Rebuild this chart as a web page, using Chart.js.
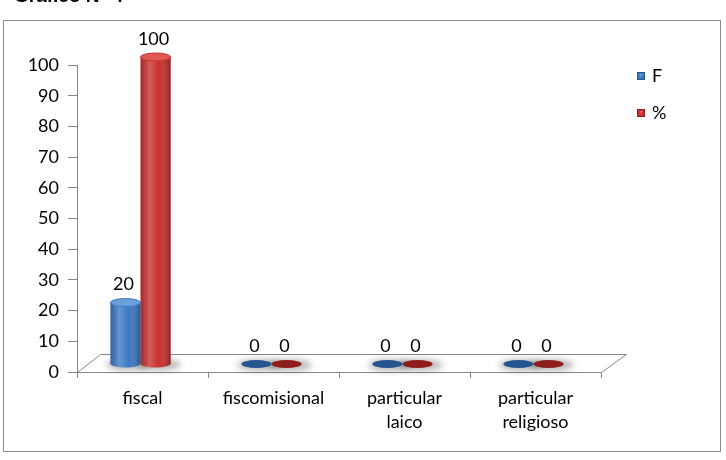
<!DOCTYPE html>
<html>
<head>
<meta charset="utf-8">
<script src="https://cdn.jsdelivr.net/npm/chart.js@4.4.0/dist/chart.umd.min.js"></script>
<style>
  html, body { margin: 0; padding: 0; background: #fff; }
  canvas { display: block; }
</style>
</head>
<body>
<canvas id="grafico" width="726" height="460"></canvas>
<script>
// Gráfico N° 4 - tipo de establecimiento
var categories = ['fiscal', 'fiscomisional', ['particular', 'laico'], ['particular', 'religioso']];
var seriesF = [20, 0, 0, 0];
var seriesPct = [100, 0, 0, 0];
var yTicks = [0, 10, 20, 30, 40, 50, 60, 70, 80, 90, 100];
var seriesNames = ['F', '%'];

var colors = ['#3B79C3', '#C8312F'];
var darkColors = ['#25548F', '#8E1D1C'];
var lightColors = ['#6A9FDB', '#DE5A56'];
var axisColor = '#868686';
var fontFam = 'Lato, "Liberation Sans", sans-serif';
var fontSize = 18;

// fake 3d depth offset
var DX = -2, DY = -8;

function ellipse(ctx, x, y, rx, ry) {
    ctx.beginPath();
    ctx.ellipse(x, y, rx, ry, 0, 0, Math.PI * 2);
    ctx.fill();
}

var framePlugin = {
    id: 'frame',
    beforeDraw: function (chart) {
        var ctx = chart.ctx;
        ctx.save();
        ctx.fillStyle = '#fff';
        ctx.fillRect(0, 0, chart.width, chart.height);
        ctx.fillStyle = '#000';
        ctx.font = 'bold 19px "Liberation Sans", Arial, sans-serif';
        ctx.textBaseline = 'alphabetic';
        ctx.fillText('Gráfico N° 4', 14, 2);
        ctx.strokeStyle = '#8C8C8C';
        ctx.lineWidth = 1;
        ctx.strokeRect(3.5, 20.5, 717, 431);
        ctx.restore();
    }
};

var barsPlugin = {
    id: 'bars3d',
    beforeDatasetsDraw: function (chart) {
        var ctx = chart.ctx;
        var a = chart.chartArea;
        // floor
        ctx.save();
        ctx.strokeStyle = axisColor;
        ctx.lineWidth = 1;
        ctx.beginPath();
        ctx.moveTo(a.left + 0.5, a.bottom + 0.5);
        ctx.lineTo(a.left + 23.5, a.bottom - 17.5);
        ctx.lineTo(a.right + 25.5, a.bottom - 17.5);
        ctx.lineTo(a.right + 0.5, a.bottom + 0.5);
        ctx.stroke();
        ctx.restore();

        ctx.save();
        ctx.translate(DX, DY);
        // soft shadows on the floor
        ctx.filter = 'blur(3px)';
        ctx.fillStyle = 'rgba(0,0,0,0.28)';
        chart.data.datasets.forEach(function (ds, i) {
            chart.getDatasetMeta(i).data.forEach(function (el) {
                ellipse(ctx, el.x + 3, el.base + 1, el.width / 2 + 7, 6);
            });
        });
        ctx.filter = 'none';
    },
    afterDatasetsDraw: function (chart) {
        var ctx = chart.ctx;
        chart.data.datasets.forEach(function (ds, i) {
            chart.getDatasetMeta(i).data.forEach(function (el, j) {
                var w = el.width, x = el.x;
                var ry = 4;
                if (ds.data[j] > 0) {
                    var g = ctx.createLinearGradient(x - w / 2, 0, x + w / 2, 0);
                    g.addColorStop(0, 'rgba(0,0,0,0.15)');
                    g.addColorStop(0.3, 'rgba(255,255,255,0.22)');
                    g.addColorStop(0.6, 'rgba(255,255,255,0)');
                    g.addColorStop(1, 'rgba(0,0,0,0.3)');
                    ctx.fillStyle = colors[i];
                    ellipse(ctx, x, el.base, w / 2, ry);
                    ctx.fillStyle = g;
                    ctx.fillRect(x - w / 2, el.y, w, el.base - el.y);
                    ctx.beginPath();
                    ctx.ellipse(x, el.base, w / 2, ry, 0, 0, Math.PI);
                    ctx.fill();
                    ctx.fillStyle = lightColors[i];
                    ellipse(ctx, x, el.y, w / 2, ry);
                    ctx.strokeStyle = colors[i];
                    ctx.lineWidth = 1;
                    ctx.stroke();
                } else {
                    ctx.fillStyle = darkColors[i];
                    ellipse(ctx, x, el.base, w / 2, ry);
                }
                // data label
                ctx.fillStyle = '#000';
                ctx.font = fontSize + 'px ' + fontFam;
                ctx.textAlign = 'center';
                ctx.textBaseline = 'bottom';
                ctx.fillText(String(ds.data[j]), x - 2, el.y - 9);
            });
        });
        ctx.restore();
    }
};

var legendPlugin = {
    id: 'sideLegend',
    afterDraw: function (chart) {
        var ctx = chart.ctx;
        ctx.save();
        ctx.font = fontSize + 'px ' + fontFam;
        ctx.textBaseline = 'middle';
        ctx.textAlign = 'left';
        seriesNames.forEach(function (name, i) {
            var y = 76 + i * 37;
            ctx.fillStyle = colors[i];
            ctx.fillRect(637, y - 4, 8, 8);
            ctx.strokeStyle = darkColors[i];
            ctx.lineWidth = 1;
            ctx.strokeRect(637.5, y - 3.5, 7, 7);
            ctx.fillStyle = lightColors[i];
            ctx.beginPath();
            ctx.moveTo(639, y - 2);
            ctx.lineTo(643, y - 2);
            ctx.lineTo(641, y + 1);
            ctx.fill();
            ctx.fillStyle = '#000';
            ctx.fillText(name, 652, y);
        });
        ctx.restore();
    }
};

new Chart(document.getElementById('grafico').getContext('2d'), {
    type: 'bar',
    data: {
        labels: categories,
        datasets: [
            { label: seriesNames[0], data: seriesF, backgroundColor: colors[0] },
            { label: seriesNames[1], data: seriesPct, backgroundColor: colors[1] }
        ]
    },
    options: {
        responsive: false,
        animation: false,
        layout: { padding: { top: 65, right: 125, left: 0, bottom: 0 } },
        datasets: { bar: { barPercentage: 1, categoryPercentage: 0.46 } },
        plugins: { legend: { display: false }, tooltip: { enabled: false } },
        scales: {
            x: {
                grid: { drawOnChartArea: false, tickLength: 6, color: axisColor, offset: true },
                border: { color: axisColor },
                ticks: { color: '#000', font: { family: fontFam, size: fontSize, lineHeight: 1.35 }, padding: 8, maxRotation: 0 },
                afterFit: function (s) { s.height = 88; }
            },
            y: {
                min: 0,
                max: 100,
                afterBuildTicks: function (s) { s.ticks = yTicks.map(function (v) { return { value: v }; }); },
                grid: { drawOnChartArea: false, tickLength: 9, color: axisColor },
                border: { color: axisColor },
                ticks: { color: '#000', font: { family: fontFam, size: fontSize }, padding: 9 },
                afterFit: function (s) { s.width = 77; }
            }
        }
    },
    plugins: [framePlugin, barsPlugin, legendPlugin]
});
</script>
</body>
</html>
